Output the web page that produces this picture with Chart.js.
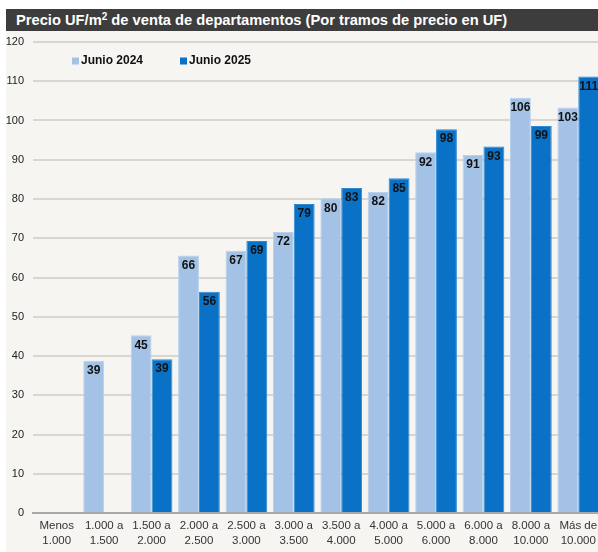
<!DOCTYPE html>
<html>
<head>
<meta charset="utf-8">
<script src="https://cdn.jsdelivr.net/npm/chart.js@4.4.1/dist/chart.umd.min.js"></script>
<style>
  html, body { margin: 0; padding: 0; background: #ffffff; overflow: hidden; width: 598px; height: 552px; }
  #wrap { position: absolute; left: 6px; top: 9px; width: 600px; height: 543px; }
  #title { height: 22px; background: #3d3d3d; color: #ffffff; font: bold 14.7px "Liberation Sans", Arial, sans-serif; line-height: 22px; padding-left: 10px; white-space: nowrap; }
  #title sup { font-size: 10px; line-height: 0; vertical-align: 5px; }
  #box { position: relative; width: 600px; height: 521px; background: #f6f5f1; }
  canvas { display: block; }
</style>
</head>
<body>
<div id="wrap">
  <div id="title">Precio UF/m<sup>2</sup> de venta de departamentos (Por tramos de precio en UF)</div>
  <div id="box"><canvas id="c" width="600" height="521"></canvas></div>
</div>
<script>
const categories = [
  ['Menos', '1.000'], ['1.000 a', '1.500'], ['1.500 a', '2.000'], ['2.000 a', '2.500'],
  ['2.500 a', '3.000'], ['3.000 a', '3.500'], ['3.500 a', '4.000'], ['4.000 a', '5.000'],
  ['5.000 a', '6.000'], ['6.000 a', '8.000'], ['8.000 a', '10.000'], ['Más de', '10.000']
];
const seriesNames = ['Junio 2024', 'Junio 2025'];
const junio2024 = [null, 38.8, 45.3, 65.6, 66.8, 71.6, 80.2, 81.8, 91.9, 91.2, 105.8, 103.3];
const junio2025 = [null, null, 39.2, 56.4, 69.3, 78.7, 82.8, 85.3, 97.8, 93.4, 98.6, 111.2];
const yTicks = [0, 10, 20, 30, 40, 50, 60, 70, 80, 90, 100, 110, 120];

const colors = ['#a3c2e6', '#0a72c6'];
const borders = ['#b8d1ee', '#2f88d3'];

const FONT = '"Liberation Sans", Arial, sans-serif';

const labelPlugin = {
  id: 'barLabels',
  afterDatasetsDraw(chart) {
    const ctx = chart.ctx;
    ctx.save();
    ctx.font = 'bold 12px ' + FONT;
    ctx.fillStyle = '#111111';
    ctx.textAlign = 'center';
    ctx.textBaseline = 'middle';
    chart.data.datasets.forEach((ds, di) => {
      const meta = chart.getDatasetMeta(di);
      meta.data.forEach((bar, i) => {
        const v = ds.data[i];
        if (v === null || v === undefined) return;
        ctx.fillText(String(Math.round(v)), bar.x, bar.y + 10);
      });
    });
    ctx.restore();
  }
};

const legendPlugin = {
  id: 'inLegend',
  afterDraw(chart) {
    const ctx = chart.ctx;
    const a = chart.chartArea;
    ctx.save();
    ctx.font = 'bold 12px ' + FONT;
    ctx.textBaseline = 'middle';
    ctx.textAlign = 'left';
    const y = a.top + 19;
    const xs = [a.left + 39, a.left + 147];
    chart.data.datasets.forEach((ds, i) => {
      ctx.fillStyle = colors[i];
      ctx.fillRect(xs[i], y - 3.5, 7, 7);
      ctx.fillStyle = '#111111';
      ctx.fillText(ds.label, xs[i] + 9, y);
    });
    ctx.restore();
  }
};

new Chart(document.getElementById('c'), {
  type: 'bar',
  data: {
    labels: categories,
    datasets: [
      { label: seriesNames[0], data: junio2024, backgroundColor: colors[0], borderColor: borders[0], borderWidth: 1, categoryPercentage: 0.88, barPercentage: 1.0 },
      { label: seriesNames[1], data: junio2025, backgroundColor: colors[1], borderColor: borders[1], borderWidth: 1, categoryPercentage: 0.88, barPercentage: 1.0 }
    ]
  },
  options: {
    responsive: false,
    animation: false,
    layout: { padding: { top: 11, right: 4, left: 0, bottom: 0 } },
    plugins: { legend: { display: false }, title: { display: false }, tooltip: { enabled: false } },
    scales: {
      x: {
        grid: { display: false, drawTicks: false },
        border: { display: true, color: '#a9a9a9', width: 2 },
        ticks: { color: '#333333', font: { family: FONT, size: 11.5, lineHeight: 1.3 }, padding: 5, maxRotation: 0, autoSkip: false },
        afterFit(s) { s.height = 39; }
      },
      y: {
        min: 0, max: 120,
        afterBuildTicks(s) { s.ticks = yTicks.map(v => ({ value: v })); },
        grid: { color: '#d8d6d1', lineWidth: 2, drawTicks: false },
        border: { display: false },
        ticks: { color: '#222222', font: { family: FONT, size: 11 }, padding: 9 },
        afterFit(s) { s.width = 27; s.paddingTop = 0; s.paddingBottom = 0; }
      }
    }
  },
  plugins: [labelPlugin, legendPlugin]
});
</script>
</body>
</html>
